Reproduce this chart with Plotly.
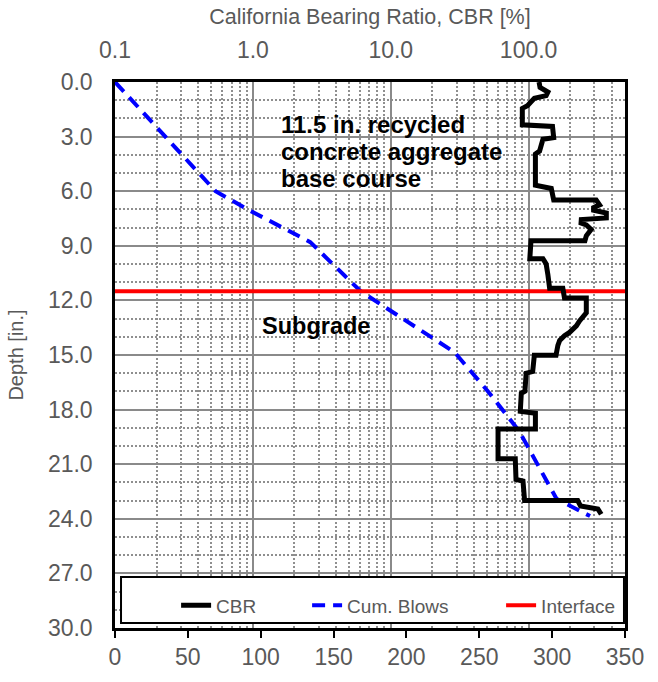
import math
import plotly.graph_objects as go

# ---------------- data ----------------
depth_cbr = [0.0, 0.3, 0.55, 0.75, 0.9, 1.3, 1.45, 2.35, 2.44, 3.06, 3.15, 3.8, 3.96, 5.67, 5.85,
             6.48, 6.48, 6.75, 6.9, 7.05, 7.2, 7.47, 7.56, 7.75, 7.85, 8.1, 8.45, 8.72, 8.72, 9.71,
             9.71, 10.0, 10.6, 11.33, 11.33, 11.87, 11.87, 12.68, 13.13, 13.4, 13.76, 13.94, 14.2,
             14.47, 15.01, 15.01, 15.91, 16.0, 16.99, 17.1, 18.1, 18.2, 19.06, 19.06, 20.7, 20.7,
             21.84, 21.93, 23.0, 23.0, 23.3, 23.46, 23.75]
cbr = [119, 121, 138, 134, 110, 98, 90, 90, 149, 152, 127, 120, 112, 112, 146,
       152, 309, 327, 296, 296, 366, 366, 241, 240, 262, 284, 262, 256, 104, 102,
       127, 134, 138, 142, 177, 182, 262, 262, 234, 222, 198, 182, 168,
       163, 158, 110, 107, 96, 94, 88.5, 87, 112, 112, 60, 60, 80,
       81, 91, 93.5, 227, 238, 318, 336]

depth_blows = [0.0, 6.0, 7.0, 8.8, 11.5, 14.85, 17.0, 19.2, 22.9, 23.85]
cum_blows = [0, 69, 91, 134, 168.6, 233, 256, 277.5, 303, 326]

interface_depth = 11.5
interface_blows = [0, 350]

blows_ticks = [0, 50, 100, 150, 200, 250, 300, 350]
cbr_ticks = [0.1, 1, 10, 100]
cbr_ticktext = ["0.1", "1.0", "10.0", "100.0"]
depth_ticks = [0, 3, 6, 9, 12, 15, 18, 21, 24, 27, 30]
depth_ticktext = ["%.1f" % d for d in depth_ticks]

base_lines = ["11.5 in. recycled", "concrete aggregate", "base course"]
subgrade_label = "Subgrade"

# ---------------- styling ----------------
FONT = "Liberation Sans, Arial, sans-serif"
GRAY = "#595959"
MAJ_GRID = "#8a8a8a"
MIN_GRID = "#8f8f8f"
TICK_SIZE = 23

cbr_minor = [m * 10 ** e for e in (-1, 0, 1) for m in range(2, 10)] + [200, 300, 400]

fig = go.Figure()

fig.add_trace(go.Scatter(
    x=cbr, y=depth_cbr, xaxis="x2", yaxis="y", mode="lines", name="CBR",
    line=dict(color="black", width=5), legendwidth=86))
fig.add_trace(go.Scatter(
    x=cum_blows, y=depth_blows, xaxis="x", yaxis="y", mode="lines", name="Cum. Blows",
    line=dict(color="#0000ff", width=4, dash="13px,8px"), legendwidth=149))
fig.add_trace(go.Scatter(
    x=interface_blows, y=[interface_depth] * len(interface_blows), xaxis="x", yaxis="y",
    mode="lines", name="Interface", line=dict(color="#ff0000", width=4), legendwidth=87))

annotations = []
for text, ypos in zip(base_lines, [0.9227, 0.8733, 0.8239]):
    annotations.append(dict(
        text="<b>%s</b>" % text, xref="paper", yref="paper", x=0.3216, y=ypos,
        xanchor="left", yanchor="middle", align="left", showarrow=False,
        font=dict(size=24, color="black", family=FONT)))
annotations.append(dict(
    text="<b>%s</b>" % subgrade_label, xref="paper", yref="paper", x=0.2843, y=0.554,
    xanchor="left", yanchor="middle", align="left", showarrow=False,
    font=dict(size=23.5, color="black", family=FONT)))

fig.update_layout(
    width=658, height=682,
    margin=dict(l=115, r=33, t=82, b=44),
    paper_bgcolor="white", plot_bgcolor="white",
    font=dict(family=FONT, color=GRAY, size=20),
    showlegend=True,
    xaxis=dict(
        range=[0, 350], tickmode="array", tickvals=blows_ticks,
        ticks="outside", ticklen=7, tickwidth=2, tickcolor="black",
        showgrid=False, zeroline=False,
        showline=True, linecolor="black", linewidth=2.5, mirror=True,
        tickfont=dict(size=TICK_SIZE, color=GRAY, family=FONT),
    ),
    xaxis2=dict(
        type="log", range=[math.log10(0.1), math.log10(500)],
        overlaying="x", side="top", anchor="y",
        tickmode="array", tickvals=cbr_ticks, ticktext=cbr_ticktext,
        ticks="outside", ticklen=14, tickcolor="rgba(0,0,0,0)",
        showgrid=True, gridcolor=MAJ_GRID, gridwidth=2,
        minor=dict(tickmode="array", tickvals=cbr_minor, showgrid=True,
                   gridcolor=MIN_GRID, gridwidth=1.5, griddash="2px,2px", ticks=""),
        zeroline=False, showline=False,
        tickfont=dict(size=TICK_SIZE, color=GRAY, family=FONT),
        title=dict(text="California Bearing Ratio, CBR [%]", standoff=6,
                   font=dict(size=21.5, color=GRAY, family=FONT)),
    ),
    yaxis=dict(
        range=[30, 0], tickmode="array", tickvals=depth_ticks, ticktext=depth_ticktext,
        ticks="outside", ticklen=15, tickcolor="rgba(0,0,0,0)",
        showgrid=True, gridcolor=MAJ_GRID, gridwidth=2,
        minor=dict(dtick=1, showgrid=True, gridcolor=MIN_GRID, gridwidth=1.5,
                   griddash="2px,2px", ticks=""),
        zeroline=False,
        showline=True, linecolor="black", linewidth=2.5, mirror=True,
        tickfont=dict(size=TICK_SIZE, color=GRAY, family=FONT),
        title=dict(text="Depth [in.]", standoff=19,
                   font=dict(size=20, color=GRAY, family=FONT)),
    ),
    legend=dict(
        orientation="h", x=0.1198, xanchor="left", y=0.0413, yanchor="middle",
        bgcolor="rgba(0,0,0,0)", borderwidth=0,
        font=dict(size=19, color=GRAY, family=FONT),
    ),
    shapes=[dict(
        type="rect", xref="paper", yref="paper",
        x0=0.0118, x1=0.998, y0=0.009, y1=0.0934,
        fillcolor="white", line=dict(color="black", width=2), layer="above",
    )],
    annotations=annotations,
)

fig.write_html("out.html")
